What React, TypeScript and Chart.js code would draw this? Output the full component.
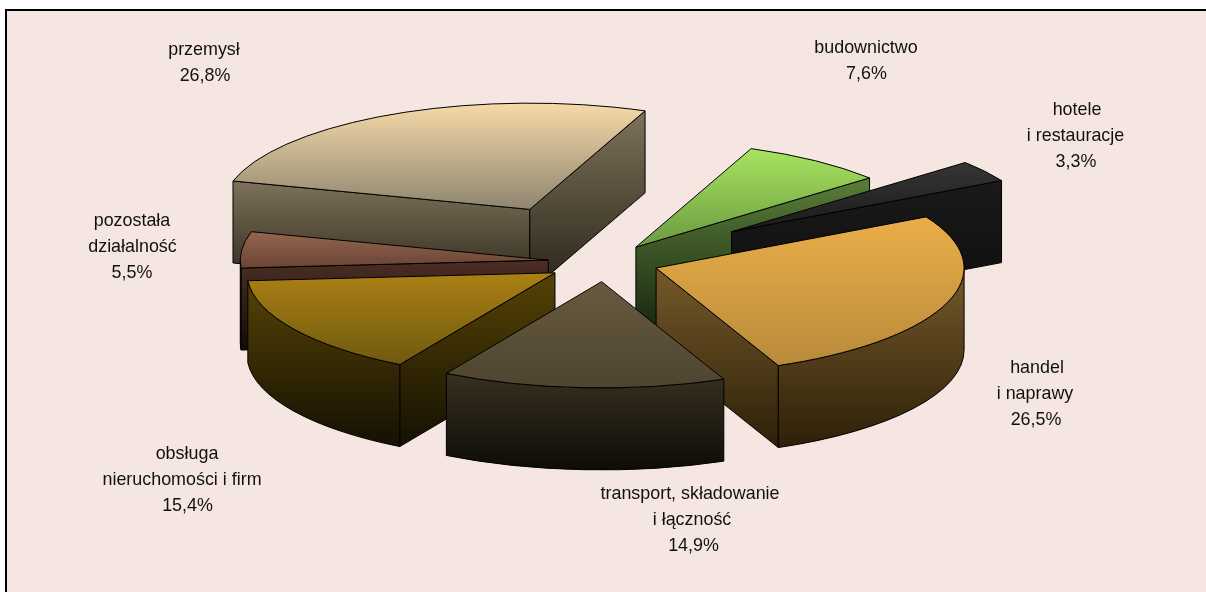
import React, { useEffect, useRef } from "react";
import { Chart, registerables } from "chart.js";

Chart.register(...registerables);

const categories = [
  "przemysł",
  "budownictwo",
  "hotele i restauracje",
  "handel i naprawy",
  "transport, składowanie i łączność",
  "obsługa nieruchomości i firm",
  "pozostała działalność",
];
const shares = [26.8, 7.6, 3.3, 26.5, 14.9, 15.4, 5.5];

const labelLines = [
  ["przemysł", "26,8%"],
  ["budownictwo", "7,6%"],
  ["hotele", "i restauracje", "3,3%"],
  ["handel", "i naprawy", "26,5%"],
  ["transport, składowanie", "i łączność", "14,9%"],
  ["obsługa", "nieruchomości i firm", "15,4%"],
  ["pozostała", "działalność", "5,5%"],
];
const labelXs = [
  [204, 205],
  [866, 866.5],
  [1077, 1075.5, 1076],
  [1037, 1035, 1036],
  [690, 692, 693.5],
  [187, 182, 187.5],
  [132, 132.5, 132],
];
const labelTops = [50, 48, 110, 368, 494, 454, 221];

const explode = [170, 53, 154, 54, 57, 59, 57];
const paintOrder = [0, 6, 1, 2, 5, 3, 4];

const topFrom = ["#f6daa8", "#a8e45f", "#353535", "#eaae48", "#675a3e", "#ab8014", "#966550"];
const topTo = ["#8f8570", "#6a9a42", "#1a1a1a", "#b88a3a", "#4e4430", "#6f5a10", "#6a4434"];
const wallFrom = ["#7d725a", "#5a7e39", "#1a1a1a", "#75592a", "#37301f", "#564306", "#4c2e24"];
const wallTo = ["#2a2418", "#182810", "#0c0c0c", "#2d2008", "#0e0c08", "#141002", "#150b08"];

const SQUASH = 0.345;
const DEPTH = 82;
const RADIUS = 308;

const pie3d = {
  id: "pie3d",
  beforeDatasetDraw(chart: any) {
    const ctx: CanvasRenderingContext2D = chart.ctx;
    const arcs = chart.getDatasetMeta(0).data;
    const verticalGradient = (y0: number, y1: number, a: string, b: string) => {
      const g = ctx.createLinearGradient(0, y0, 0, y1);
      g.addColorStop(0, a);
      g.addColorStop(1, b);
      return g;
    };
    paintOrder.forEach((i) => {
      const arc = arcs[i];
      const { x, y, startAngle: a0, endAngle: a1, outerRadius: r } = arc;
      const mid = (a0 + a1) / 2;
      const ax = x + Math.cos(mid) * explode[i];
      const ay = y + Math.sin(mid) * explode[i] * SQUASH;
      const px = (a: number) => ax + Math.cos(a) * r;
      const py = (a: number) => ay + Math.sin(a) * r * SQUASH;

      ctx.save();
      ctx.lineWidth = 1;
      ctx.strokeStyle = "#000";
      ctx.lineJoin = "round";

      // cut faces that look towards the viewer
      const faces: number[] = [];
      if (-Math.cos(a0) > 0) faces.push(a0);
      if (Math.cos(a1) > 0) faces.push(a1);
      faces.forEach((a) => {
        const ex = px(a);
        const ey = py(a);
        const yMin = Math.min(ay, ey);
        const yMax = Math.max(ay, ey) + DEPTH;
        ctx.beginPath();
        ctx.moveTo(ax, ay);
        ctx.lineTo(ex, ey);
        ctx.lineTo(ex, ey + DEPTH);
        ctx.lineTo(ax, ay + DEPTH);
        ctx.closePath();
        ctx.fillStyle = verticalGradient(yMin, yMax, wallFrom[i], wallTo[i]);
        ctx.fill();
        ctx.stroke();
      });

      // outer wall, only the part of the rim that faces the viewer
      const w0 = Math.max(a0, 0);
      const w1 = Math.min(a1, Math.PI);
      if (w1 > w0) {
        const hasBottom = w0 <= Math.PI / 2 && w1 >= Math.PI / 2;
        ctx.beginPath();
        ctx.ellipse(ax, ay, r, r * SQUASH, 0, w0, w1);
        ctx.ellipse(ax, ay + DEPTH, r, r * SQUASH, 0, w1, w0, true);
        ctx.closePath();
        const top = Math.min(py(w0), py(w1));
        const bottom = (hasBottom ? ay + r * SQUASH : Math.max(py(w0), py(w1))) + DEPTH;
        ctx.fillStyle = verticalGradient(top, bottom, wallFrom[i], wallTo[i]);
        ctx.fill();
        ctx.stroke();
      }

      // top face: the library's own arc element on a flattened plane
      let planeMin = 0;
      let planeMax = 0;
      [a0, a1].forEach((a) => {
        planeMin = Math.min(planeMin, Math.sin(a) * r);
        planeMax = Math.max(planeMax, Math.sin(a) * r);
      });
      [Math.PI / 2, -Math.PI / 2, (3 * Math.PI) / 2].forEach((a) => {
        if (a > a0 && a < a1) {
          planeMin = Math.min(planeMin, Math.sin(a) * r);
          planeMax = Math.max(planeMax, Math.sin(a) * r);
        }
      });
      ctx.save();
      ctx.translate(ax - x, ay);
      ctx.scale(1, SQUASH);
      ctx.translate(0, -y);
      arc.options = {
        ...arc.options,
        backgroundColor: verticalGradient(y + planeMin, y + planeMax, topFrom[i], topTo[i]),
        borderWidth: 0,
      };
      arc.draw(ctx);
      ctx.restore();

      ctx.beginPath();
      ctx.moveTo(ax, ay);
      ctx.lineTo(px(a0), py(a0));
      ctx.ellipse(ax, ay, r, r * SQUASH, 0, a0, a1);
      ctx.closePath();
      ctx.stroke();
      ctx.restore();
    });
    return false;
  },
  afterDatasetsDraw(chart: any) {
    const ctx: CanvasRenderingContext2D = chart.ctx;
    ctx.save();
    ctx.fillStyle = "#111";
    ctx.font = '17.9px "Liberation Sans", Arial, sans-serif';
    ctx.textAlign = "center";
    ctx.textBaseline = "middle";
    labelLines.forEach((lines, i) => {
      lines.forEach((line, j) => {
        ctx.fillText(line, labelXs[i][j], labelTops[i] + j * 26);
      });
    });
    ctx.restore();
  },
};

export default function App() {
  const ref = useRef<HTMLCanvasElement>(null);
  useEffect(() => {
    const chart = new Chart(ref.current as HTMLCanvasElement, {
      type: "pie",
      data: {
        labels: categories,
        datasets: [
          {
            data: shares,
            backgroundColor: topFrom,
            borderWidth: 0,
            radius: RADIUS,
          } as any,
        ],
      },
      options: {
        animation: false,
        responsive: false,
        rotation: -74.5,
        layout: { padding: { left: 4, right: 0, top: 0, bottom: 68 } },
        plugins: {
          legend: { display: false },
          tooltip: { enabled: false },
          title: { display: false },
        },
      },
      plugins: [pie3d],
    } as any);
    return () => chart.destroy();
  }, []);
  return (
    <div style={{ position: "fixed", left: 0, top: 0, width: 1206, height: 592, background: "#fff", overflow: "hidden" }}>
      <div
        style={{
          position: "absolute",
          left: 5,
          top: 9,
          width: 1201,
          height: 583,
          boxSizing: "border-box",
          background: "#f5e6e2",
          borderLeft: "2px solid #000",
          borderTop: "2px solid #000",
        }}
      />
      <canvas ref={ref} width={1206} height={592} style={{ position: "absolute", left: 0, top: 0 }} />
    </div>
  );
}
